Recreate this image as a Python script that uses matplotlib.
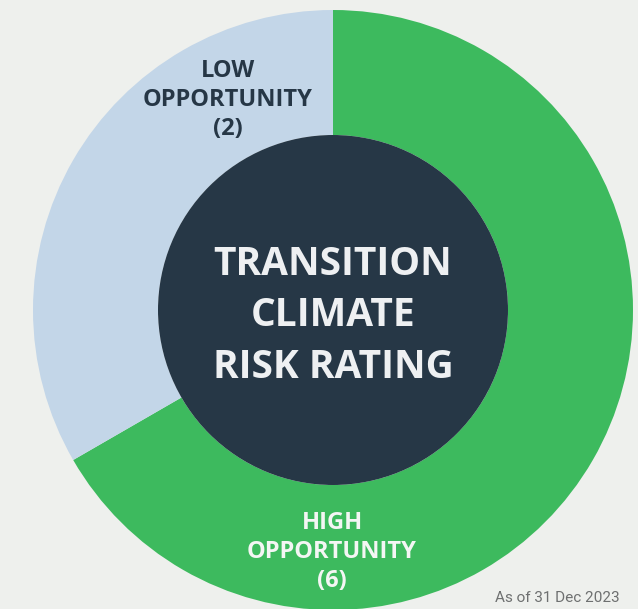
import matplotlib
matplotlib.use('Agg')
import matplotlib.pyplot as plt
from matplotlib.patches import Circle

# ratings shown on the ring (label, count) and the arc share
labels = ['HIGH\nOPPORTUNITY', 'LOW\nOPPORTUNITY']
counts = [6, 2]
arc_share = [240, 120]  # degrees of the ring each rating covers
colors = ['#3dba5e', '#c3d6e8']
text_colors = ['#f4f6f4', '#263746']

title = 'TRANSITION\nCLIMATE\nRISK RATING'
note = 'As of 31 Dec 2023'

W, H = 638, 609
fig = plt.figure(figsize=[W / 100, H / 100], dpi=100)
fig.patch.set_facecolor('#eef0ed')
ax = fig.add_axes([0, 0, 1, 1])
ax.set_facecolor('#eef0ed')

cx, cy = 333, H - 310
r_out, r_in = 300, 175

ax.pie(arc_share, colors=colors, startangle=90, counterclock=False,
       radius=r_out, center=(cx, cy),
       wedgeprops={'width': r_out - r_in, 'linewidth': 0})
ax.add_patch(Circle((cx, cy), r_in, color='#263746', lw=0, zorder=3))

ax.text(cx, cy - 6, title, ha='center', va='center', color='#eef0f2',
        fontsize=28, fontweight='bold', family='Open Sans',
        linespacing=1.41, zorder=4)

# label positions (pixel coords from top)
label_pos = [(332, 552), (228, 100)]
for lab, n, tc, (x, y) in zip(labels, counts, text_colors, label_pos):
    ax.text(x, H - y, '%s\n(%d)' % (lab, n), ha='center', va='center',
            color=tc, fontsize=17, fontweight='bold', family='Open Sans',
            linespacing=1.28, zorder=4)

ax.text(620, H - 598, note, ha='right', va='center', color='#6e7070',
        fontsize=11, family='Roboto')

ax.set_xlim(0, W)
ax.set_ylim(0, H)
ax.set_aspect('equal')
ax.axis('off')

plt.savefig('out.png', dpi=100, facecolor=fig.get_facecolor())
